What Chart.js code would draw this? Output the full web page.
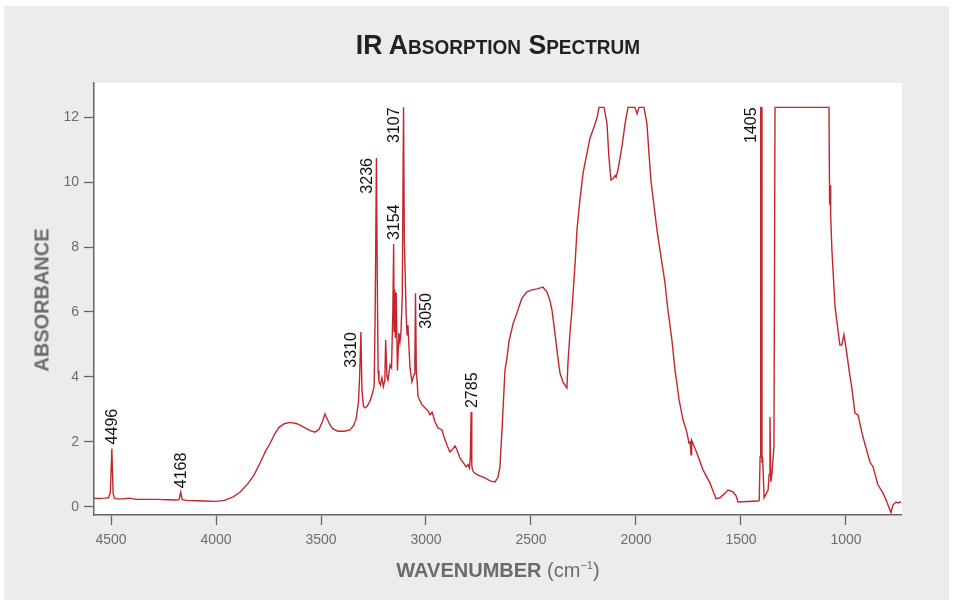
<!DOCTYPE html>
<html lang="en">
  <head>
    <meta charset="UTF-8" />
    <title>IR Absorption Spectrum</title>
    <script src="https://cdn.jsdelivr.net/npm/chart.js@4.4.1/dist/chart.umd.min.js"></script>
    <style>
      body { margin: 0; background: #fff; }
      #wrap { position: relative; width: 953px; height: 604px; }
      #chart { position: absolute; left: 0; top: 0; }
      .lbl {
        position: absolute;
        font-family: "Liberation Sans", Arial, sans-serif;
        font-weight: bold;
        white-space: nowrap;
      }
      #title { left: 94px; width: 808px; top: 29px; text-align: center; font-size: 28px; color: #222; font-variant: small-caps; transform: scaleX(0.95); }
      #xTitle { left: 94px; width: 808px; top: 559px; text-align: center; font-size: 20px; color: #6b6b6b; }
      #yTitle { left: 42px; top: 300px; font-size: 20px; color: #6b6b6b; transform: translate(-50%, -50%) rotate(-90deg); }
      sup { font-size: 11px; }
    </style>
  </head>
  <body>
    <div id="wrap">
      <canvas id="chart" width="953" height="604"></canvas>
      <div id="title" class="lbl">IR Absorption Spectrum</div>
      <div id="xTitle" class="lbl">WAVENUMBER <span style="font-weight:normal">(cm<sup>−1</sup>)</span></div>
      <div id="yTitle" class="lbl">ABSORBANCE</div>
    </div>

    <script>
      // spectrum (cm-1, absorbance)
      const wavenumbers = [
        4581, 4560, 4530, 4512, 4503, 4496, 4490, 4484, 4460, 4440, 4414, 4380, 4330, 4280, 4230, 4190,
        4176, 4168, 4161, 4140, 4100, 4050, 4000, 3960, 3920, 3886, 3850, 3820, 3790, 3765, 3743, 3720,
        3700, 3675, 3648, 3614, 3580, 3552, 3529, 3510, 3495, 3481, 3470, 3455, 3443, 3420, 3390, 3362,
        3345, 3333, 3322, 3316, 3310, 3305, 3298, 3290, 3280, 3267, 3255, 3247, 3242, 3236, 3232, 3228,
        3224, 3217, 3210, 3203, 3196, 3192, 3186, 3181, 3171, 3164, 3158, 3154, 3152, 3149, 3146, 3142,
        3136, 3129, 3124, 3119, 3113, 3107, 3103, 3098, 3095, 3090, 3086, 3081, 3076, 3067, 3062, 3055,
        3053, 3050, 3046, 3041, 3038, 3019, 3005, 2990, 2981, 2971, 2957, 2943, 2924, 2914, 2900, 2886,
        2870, 2862, 2852, 2838, 2824, 2809, 2800, 2793, 2789, 2785, 2782, 2779, 2771, 2752, 2735, 2719,
        2695, 2671, 2657, 2648, 2638, 2624, 2614, 2605, 2600, 2585, 2567, 2543, 2519, 2495, 2471, 2455,
        2443, 2435, 2424, 2410, 2400, 2386, 2375, 2362, 2348, 2335, 2329, 2324, 2315, 2305, 2290, 2281,
        2267, 2252, 2233, 2219, 2205, 2186, 2176, 2152, 2138, 2129, 2119, 2110, 2100, 2095, 2086, 2067,
        2052, 2038, 2005, 1995, 1986, 1962, 1948, 1929, 1900, 1876, 1862, 1848, 1829, 1814, 1805, 1795,
        1776, 1757, 1748, 1742, 1738, 1735, 1710, 1681, 1648, 1619, 1600, 1580, 1562, 1538, 1524, 1514,
        1419, 1413, 1409, 1406, 1404, 1400, 1397, 1390, 1371, 1366, 1362, 1358, 1352, 1343, 1338, 1081,
        1078, 1076, 1073, 1067, 1052, 1029, 1020, 1010, 1000, 985, 971, 957, 943, 919, 886, 871,
        848, 824, 805, 786, 776, 762, 752, 743, 738
      ];
      const absorbance = [
        0.27, 0.26, 0.27, 0.28, 0.45, 1.80, 0.42, 0.27, 0.24, 0.25, 0.27, 0.23, 0.23, 0.23, 0.22, 0.21,
        0.22, 0.45, 0.22, 0.20, 0.19, 0.18, 0.17, 0.20, 0.30, 0.45, 0.70, 0.97, 1.35, 1.70, 1.95, 2.25,
        2.45, 2.56, 2.60, 2.56, 2.45, 2.35, 2.30, 2.38, 2.60, 2.86, 2.70, 2.50, 2.40, 2.33, 2.33, 2.37,
        2.50, 2.70, 3.20, 4.00, 5.38, 3.60, 3.10, 3.05, 3.10, 3.25, 3.50, 3.70, 6.00, 10.74, 7.00, 4.20,
        3.85, 3.75, 3.97, 3.70, 3.90, 5.14, 4.00, 3.90, 4.37, 4.28, 6.00, 8.09, 5.40, 6.70, 5.20, 6.60,
        4.20, 5.35, 5.07, 5.38, 6.50, 12.30, 8.15, 6.90, 6.00, 5.30, 5.60, 4.90, 4.27, 3.85, 3.97, 4.10,
        4.50, 6.58, 4.20, 3.75, 3.40, 3.14, 3.05, 2.95, 2.83, 2.92, 2.62, 2.43, 2.37, 2.15, 1.90, 1.69,
        1.80, 1.88, 1.75, 1.50, 1.38, 1.23, 1.30, 1.20, 1.50, 2.92, 1.30, 1.14, 1.05, 0.98, 0.93, 0.89,
        0.80, 0.77, 0.92, 1.23, 2.37, 4.20, 4.60, 5.10, 5.23, 5.65, 5.97, 6.43, 6.62, 6.68, 6.71, 6.74,
        6.77, 6.70, 6.62, 6.35, 6.06, 5.35, 4.75, 4.12, 3.85, 3.72, 3.66, 4.43, 5.30, 6.06, 7.50, 8.52,
        9.45, 10.28, 10.90, 11.35, 11.60, 11.97, 12.30, 12.30, 11.80, 10.77, 10.06, 10.10, 10.20, 10.15, 10.37, 11.08,
        11.80, 12.30, 12.30, 12.10, 12.30, 12.30, 11.80, 10.06, 8.52, 7.50, 6.90, 6.06, 5.14, 4.20, 3.80, 3.30,
        2.68, 2.28, 1.97, 2.00, 1.60, 2.05, 1.66, 1.14, 0.74, 0.25, 0.28, 0.40, 0.52, 0.46, 0.35, 0.15,
        0.18, 0.20, 1.54, 12.30, 12.30, 1.35, 1.54, 0.28, 0.52, 1.00, 2.77, 0.77, 1.05, 1.85, 12.30, 12.30,
        9.30, 9.90, 9.00, 7.90, 6.15, 4.98, 4.98, 5.30, 4.90, 4.20, 3.60, 2.89, 2.83, 2.15, 1.38, 1.23,
        0.68, 0.43, 0.15, -0.18, 0.06, 0.15, 0.12, 0.15, 0.15
      ];

      // labelled peaks
      const peakLabels = ["4496", "4168", "3310", "3236", "3154", "3107", "3050", "2785", "1405"];
      const xTicks = [4500, 4000, 3500, 3000, 2500, 2000, 1500, 1000];
      const yTicks = [0, 2, 4, 6, 8, 10, 12];

      // where each label sits relative to its peak
      const labelSide = { "3310": "left", "3236": "left", "3107": "left", "3050": "right", "1405": "left" };

      const points = wavenumbers.map((w, i) => ({ x: w, y: absorbance[i] }));

      const backgroundPlugin = {
        id: "background",
        beforeDraw(chart) {
          const { ctx, chartArea } = chart;
          ctx.save();
          ctx.fillStyle = "#ffffff";
          ctx.fillRect(0, 0, chart.width, chart.height);
          ctx.fillStyle = "#ececec";
          ctx.fillRect(4, 6, 945, 594);
          ctx.fillStyle = "#ffffff";
          ctx.fillRect(chartArea.left, chartArea.top, chartArea.right - chartArea.left + 1, chartArea.bottom - chartArea.top);
          ctx.restore();
        },
      };

      const peakLabelPlugin = {
        id: "peakLabels",
        afterDatasetsDraw(chart) {
          const { ctx } = chart;
          const xs = chart.scales.x;
          const ys = chart.scales.y;
          ctx.save();
          ctx.font = "16px 'Liberation Sans', Arial, sans-serif";
          ctx.fillStyle = "#111";
          ctx.textBaseline = "middle";
          peakLabels.forEach((lbl) => {
            const w = Number(lbl);
            // top of the peak, from the series itself
            let top = -Infinity;
            wavenumbers.forEach((v, i) => {
              if (Math.abs(v - w) <= 3) top = Math.max(top, absorbance[i]);
            });
            const px = xs.getPixelForValue(w);
            const py = ys.getPixelForValue(top);
            const side = labelSide[lbl];
            ctx.save();
            if (side === "left" || side === "right") {
              ctx.translate(px + (side === "left" ? -10 : 10), py);
              ctx.rotate(-Math.PI / 2);
              ctx.textAlign = "right";
            } else {
              ctx.translate(px, py - 4);
              ctx.rotate(-Math.PI / 2);
              ctx.textAlign = "left";
            }
            ctx.fillText(lbl, 0, 1);
            ctx.restore();
          });
          ctx.restore();
        },
      };

      new Chart(document.getElementById("chart"), {
        type: "line",
        data: {
          datasets: [
            {
              data: points,
              borderColor: "#c4262e",
              borderWidth: 1.4,
              pointRadius: 0,
              tension: 0,
              fill: false,
            },
          ],
        },
        options: {
          responsive: false,
          animation: false,
          devicePixelRatio: 1,
          layout: { padding: { left: 0, right: 52, top: 83, bottom: 49 } },
          plugins: { legend: { display: false }, tooltip: { enabled: false } },
          scales: {
            x: {
              type: "linear",
              reverse: true,
              min: 738,
              max: 4581,
              afterBuildTicks: (s) => { s.ticks = xTicks.map((v) => ({ value: v })); },
              afterFit: (s) => { s.height = 40; },
              border: { display: true, color: "#666", width: 1.5 },
              grid: { drawOnChartArea: false, drawTicks: true, tickLength: 10, tickColor: "#666", tickWidth: 1.3 },
              ticks: {
                color: "#6d6d6d",
                padding: 7,
                maxRotation: 0,
                font: { family: "'Liberation Sans', Arial", size: 14 },
                callback: (v) => String(v),
              },
            },
            y: {
              min: -0.25,
              max: 13.05,
              afterBuildTicks: (s) => { s.ticks = yTicks.map((v) => ({ value: v })); },
              afterFit: (s) => { s.width = 94; },
              border: { display: true, color: "#666", width: 1.5 },
              grid: { drawOnChartArea: false, drawTicks: true, tickLength: 10, tickColor: "#666", tickWidth: 1.3 },
              ticks: {
                color: "#6d6d6d",
                padding: 5,
                font: { family: "'Liberation Sans', Arial", size: 14 },
                callback: (v) => String(v),
              },
            },
          },
        },
        plugins: [backgroundPlugin, peakLabelPlugin],
      });
    </script>
  </body>
</html>
